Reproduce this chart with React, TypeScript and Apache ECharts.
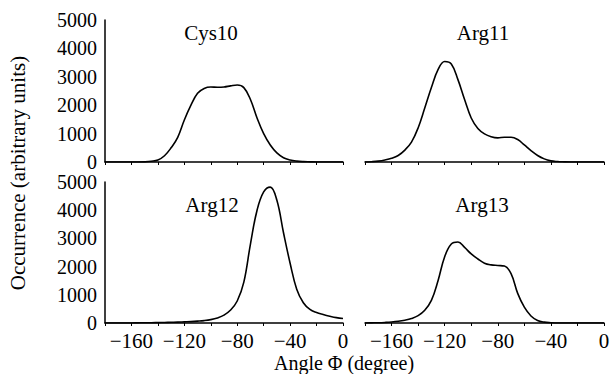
import React, { useEffect, useRef } from "react";
import * as echarts from "echarts";

const angles = [
  -180, -175, -170, -165, -160, -155, -150, -145, -140, -135, -130, -125, -120,
  -115, -110, -105, -100, -95, -90, -85, -80, -75, -70, -65, -60, -55, -50, -45,
  -40, -35, -30, -25, -20, -15, -10, -5, 0,
];

const cys10 = [
  0, 0, 0, 0, 0, 0, 5, 25, 70, 220, 500, 870, 1480, 2000, 2420, 2590, 2640,
  2630, 2640, 2680, 2710, 2620, 2200, 1550, 1000, 600, 320, 150, 70, 30, 12, 5,
  0, 0, 0, 0, 0,
];

const arg11 = [
  0, 10, 30, 70, 130, 230, 420, 700, 1200, 1900, 2620, 3250, 3540, 3450, 2900,
  2200, 1550, 1180, 990, 890, 850, 870, 870, 790, 600, 400, 230, 110, 40, 15, 5,
  0, 0, 0, 0, 0, 0,
];

const arg12 = [
  0, 0, 0, 0, 0, 5, 10, 10, 15, 20, 25, 30, 40, 50, 65, 85, 120, 180, 280, 460,
  780, 1450, 2800, 4000, 4650, 4820, 4350, 3200, 2120, 1200, 720, 480, 370, 300,
  240, 190, 160,
];

const arg13 = [
  0, 5, 10, 20, 35, 60, 100, 160, 260, 450, 800, 1500, 2350, 2800, 2870, 2680,
  2450, 2270, 2120, 2060, 2040, 2020, 1750, 1050, 560, 250, 90, 30, 10, 0, 0, 0,
  0, 0, 0, 0, 0,
];

const panelNames = ["Cys10", "Arg11", "Arg12", "Arg13"];
const panelValues = [cys10, arg11, arg12, arg13];
const xTickLabels = [-160, -120, -80, -40, 0];
const yTickValues = [0, 1000, 2000, 3000, 4000, 5000];

const FONT = "Liberation Serif";

export default function App() {
  const ref = useRef<HTMLDivElement>(null);
  useEffect(() => {
    if (!ref.current) return;
    const chart = echarts.init(ref.current, null, { renderer: "svg" });
    const grids = [
      { left: 105, top: 20, width: 238, height: 142 },
      { left: 365, top: 20, width: 239, height: 142 },
      { left: 105, top: 182, width: 238, height: 141 },
      { left: 365, top: 182, width: 239, height: 141 },
    ];
    const titlePos = [
      [211, 33],
      [483, 33],
      [212, 205],
      [482, 205],
    ];
    const option: any = {
      animation: false,
      backgroundColor: "#ffffff",
      textStyle: { fontFamily: FONT },
      grid: grids,
      xAxis: grids.map((_, i) => ({
        type: "value",
        gridIndex: i,
        min: -180,
        max: 0,
        interval: 20,
        splitLine: { show: false },
        axisLine: { lineStyle: { color: "#000", width: 1.5 } },
        axisTick: { show: true, length: 3, lineStyle: { color: "#000", width: 1 } },
        axisLabel: {
          show: i >= 2,
          margin: 7,
          color: "#000",
          fontFamily: FONT,
          fontSize: 21,
          formatter: (v: number) =>
            xTickLabels.includes(v) ? (v < 0 ? "\u2212" + Math.abs(v) : String(v)) : "",
        },
      })),
      yAxis: grids.map((_, i) => ({
        type: "value",
        gridIndex: i,
        min: 0,
        max: 5000,
        interval: 1000,
        show: i % 2 === 0,
        splitLine: { show: false },
        axisLine: { show: true, onZero: false, lineStyle: { color: "#000", width: 1.5 } },
        axisTick: { show: false },
        axisLabel: {
          margin: 8,
          color: "#000",
          fontFamily: FONT,
          fontSize: 20,
          lineHeight: 18,
          formatter: (v: number) => (yTickValues.includes(v) ? String(v) : ""),
        },
      })),
      series: panelValues.map((vals, i) => ({
        type: "line",
        name: panelNames[i],
        xAxisIndex: i,
        yAxisIndex: i,
        data: angles.map((a, j) => [a, vals[j]]),
        smooth: 0.4,
        showSymbol: false,
        lineStyle: { color: "#000", width: 1.6 },
      })),
      graphic: [
        ...panelNames.map((n, i) => ({
          type: "text",
          x: titlePos[i][0],
          y: titlePos[i][1],
          style: {
            text: n,
            fill: "#000",
            fontFamily: FONT,
            fontSize: 21,
            textAlign: "center",
            textVerticalAlign: "middle",
          },
        })),
        {
          type: "text",
          x: 18,
          y: 173,
          rotation: Math.PI / 2,
          style: {
            text: "Occurrence (arbitrary units)",
            fill: "#000",
            fontFamily: FONT,
            fontSize: 21,
            textAlign: "center",
            textVerticalAlign: "middle",
          },
        },
        {
          type: "text",
          x: 344,
          y: 363,
          style: {
            text: "Angle \u03A6 (degree)",
            fill: "#000",
            fontFamily: FONT,
            fontSize: 20,
            textAlign: "center",
            textVerticalAlign: "middle",
          },
        },
      ],
    };
    chart.setOption(option);
    return () => chart.dispose();
  }, []);
  return (
    <div
      ref={ref}
      style={{ position: "fixed", left: 0, top: 0, width: 613, height: 374 }}
    />
  );
}
